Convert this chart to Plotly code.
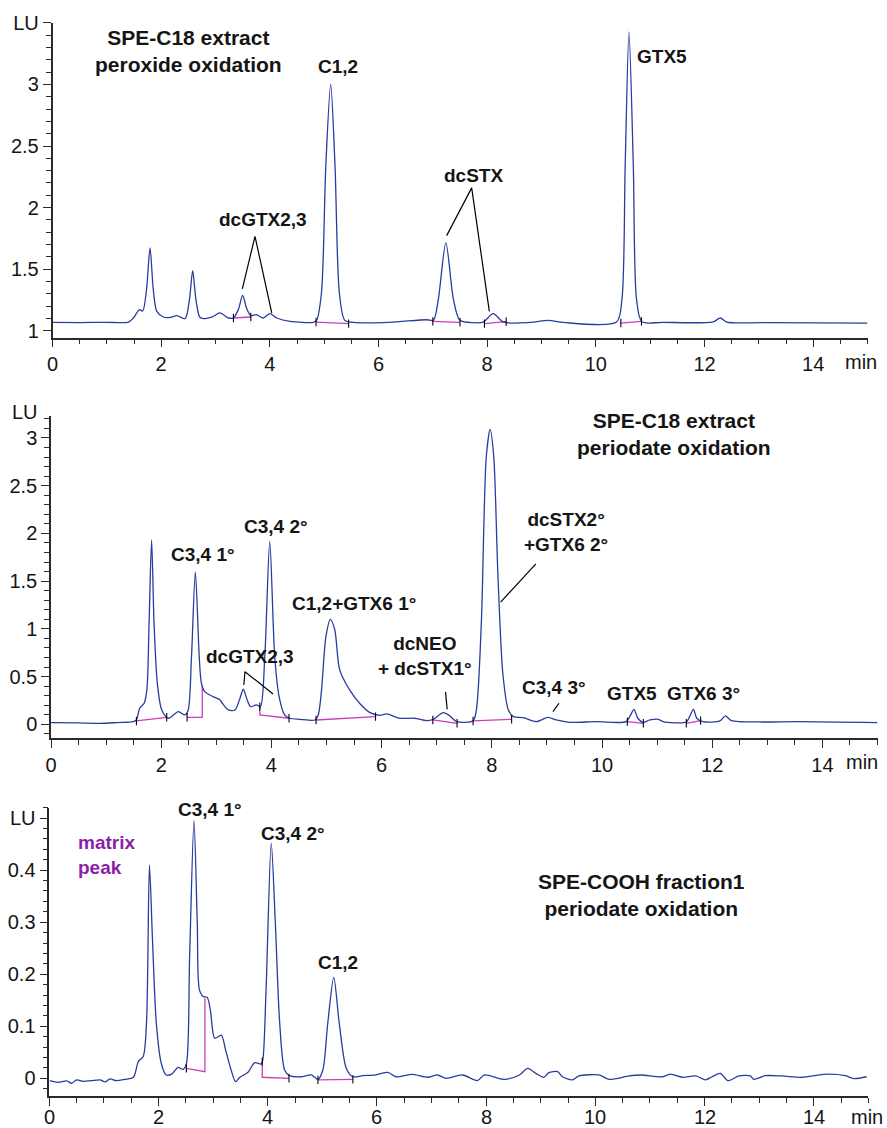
import plotly.graph_objects as go

W, H = 887, 1128

# ---------------- Panel 1: SPE-C18 extract, peroxide oxidation ----------------
t1 = [0.00, 0.50, 1.00, 1.40, 1.49, 1.60, 1.66, 1.73, 1.795, 1.855, 1.92, 2.04, 2.17, 2.29, 2.44,
      2.52, 2.58, 2.64, 2.71, 2.78, 2.95, 3.08, 3.24, 3.33, 3.42, 3.50, 3.57, 3.65, 3.75, 3.88,
      4.00, 4.13, 4.37, 4.80, 4.86, 4.95, 5.03, 5.12, 5.20, 5.28, 5.38, 5.54, 6.20, 6.89, 7.01,
      7.10, 7.24, 7.38, 7.50, 7.75, 7.93, 8.11, 8.30, 8.79, 9.13, 9.40, 10.38, 10.48, 10.54,
      10.61, 10.69, 10.75, 10.85, 11.24, 12.16, 12.29, 12.41, 13.08, 15.00]
lu1 = [1.067, 1.066, 1.068, 1.070, 1.103, 1.171, 1.160, 1.333, 1.672, 1.333, 1.157, 1.111, 1.108, 1.122, 1.098,
       1.252, 1.488, 1.252, 1.111, 1.098, 1.115, 1.144, 1.103, 1.103, 1.171, 1.287, 1.185, 1.122, 1.130, 1.103,
       1.138, 1.103, 1.076, 1.068, 1.084, 1.306, 2.336, 3.000, 2.336, 1.306, 1.084, 1.067, 1.068, 1.089, 1.084,
       1.252, 1.713, 1.252, 1.084, 1.065, 1.070, 1.138, 1.070, 1.067, 1.084, 1.067, 1.070, 1.252, 2.336,
       3.428, 2.336, 1.252, 1.072, 1.068, 1.072, 1.103, 1.070, 1.065, 1.062]
base1_t = [[3.33, 3.65], [4.85, 5.45], [7.00, 7.50], [7.95, 8.35], [10.46, 10.84]]
base1_lu = [[1.103, 1.111], [1.070, 1.057], [1.076, 1.068], [1.057, 1.073], [1.062, 1.076]]
labels1 = ["SPE-C18 extract<br>peroxide oxidation", "C1,2", "dcGTX2,3", "dcSTX", "GTX5"]
labels1_t = [2.50, 5.26, 3.88, 7.745, 11.21]
labels1_lu = [3.276, 3.149, 1.902, 2.263, 3.23]
leaders1_t = [[3.494, 3.727, 4.035], [7.255, 7.715, 8.04]]
leaders1_lu = [[1.339, 1.767, 1.144], [1.772, 2.16, 1.157]]

# ---------------- Panel 2: SPE-C18 extract, periodate oxidation ----------------
t2 = [0.00, 0.50, 0.89, 1.20, 1.49, 1.55, 1.61, 1.69, 1.74, 1.78, 1.826, 1.87, 1.93, 2.01, 2.13,
      2.31, 2.43, 2.49, 2.55, 2.62, 2.69, 2.73, 2.79, 2.94, 3.07, 3.11, 3.22, 3.34, 3.43, 3.49,
      3.55, 3.62, 3.73, 3.80, 3.88, 3.97, 4.06, 4.14, 4.24, 4.33, 4.52, 4.79, 4.85, 4.91, 4.99,
      5.07, 5.15, 5.24, 5.42, 5.60, 5.79, 5.97, 6.09, 6.33, 6.60, 6.81, 6.93, 7.12, 7.24, 7.36,
      7.66, 7.72, 7.81, 7.90, 7.97, 8.035, 8.11, 8.20, 8.30, 8.39, 8.57, 8.81, 9.02, 9.17, 9.41,
      9.90, 10.44, 10.52, 10.58, 10.65, 10.74, 10.87, 11.02, 11.11, 11.53, 11.59, 11.66, 11.72,
      11.83, 12.14, 12.24, 12.35, 12.92, 13.53, 15.00]
lu2 = [0.017, 0.015, 0.010, 0.018, 0.028, 0.045, 0.168, 0.220, 0.360, 1.060, 1.932, 1.060, 0.430, 0.150, 0.063,
       0.133, 0.098, 0.150, 0.710, 1.597, 0.710, 0.430, 0.342, 0.290, 0.255, 0.220, 0.150, 0.150, 0.273, 0.367,
       0.273, 0.185, 0.203, 0.185, 0.710, 1.915, 0.710, 0.290, 0.098, 0.063, 0.052, 0.045, 0.098, 0.360, 0.920,
       1.100, 0.990, 0.570, 0.360, 0.220, 0.122, 0.094, 0.108, 0.063, 0.063, 0.038, 0.050, 0.122, 0.087, 0.028,
       0.038, 0.150, 1.060, 2.805, 3.090, 2.805, 1.580, 0.535, 0.150, 0.080, 0.070, 0.028, 0.073, 0.045, 0.020,
       0.028, 0.028, 0.098, 0.157, 0.063, 0.020, 0.045, 0.052, 0.028, 0.024, 0.080, 0.157, 0.063,
       0.028, 0.035, 0.087, 0.038, 0.024, 0.028, 0.017]
base2_t = [[1.55, 2.10], [2.47, 2.745, 2.745], [3.79, 3.79, 4.32], [4.81, 5.89], [6.93, 7.37],
           [7.66, 8.36], [10.46, 10.75], [11.53, 11.79]]
base2_lu = [[0.035, 0.073], [0.073, 0.073, 0.41], [0.185, 0.098, 0.063], [0.045, 0.080], [0.045, 0.010],
            [0.035, 0.052], [0.028, 0.010], [0.010, 0.038]]
labels2 = ["SPE-C18 extract<br>periodate oxidation", "C3,4 1°", "C3,4 2°", "C1,2+GTX6 1°", "dcGTX2,3",
           "dcNEO<br>+ dcSTX1°", "dcSTX2°<br>+GTX6 2°", "C3,4 3°", "GTX5", "GTX6 3°"]
labels2_t = [11.30, 2.76, 4.09, 5.50, 3.62, 6.78, 9.354, 9.13, 10.545, 11.84]
labels2_lu = [3.04, 1.78, 2.07, 1.27, 0.71, 0.72, 2.016, 0.384, 0.325, 0.318]
leaders2_t = [[3.50, 3.52, 4.03], [7.16, 7.19], [8.80, 8.16], [9.22, 9.11]]
leaders2_lu = [[0.412, 0.551, 0.318], [0.34, 0.157], [1.68, 1.28], [0.22, 0.132]]

# ---------------- Panel 3: SPE-COOH fraction1, periodate oxidation ----------------
t3 = [0.01, 0.16, 0.32, 0.41, 0.50, 0.62, 0.77, 0.93, 1.02, 1.11, 1.23, 1.38, 1.54, 1.63, 1.72,
      1.78, 1.834, 1.89, 1.96, 2.05, 2.14, 2.24, 2.36, 2.45, 2.51, 2.57, 2.65, 2.71, 2.75, 2.82,
      2.89, 2.95, 3.03, 3.15, 3.23, 3.33, 3.41, 3.49, 3.64, 3.76, 3.88, 3.91, 3.97, 4.065, 4.14,
      4.22, 4.31, 4.40, 4.61, 4.80, 4.92, 5.01, 5.10, 5.21, 5.31, 5.44, 5.56, 5.74, 5.98, 6.20,
      6.35, 6.65, 6.93, 7.11, 7.27, 7.57, 7.84, 7.97, 8.33, 8.61, 8.76, 8.91, 9.06, 9.15, 9.31,
      9.40, 9.58, 9.70, 10.07, 10.25, 10.62, 10.83, 11.23, 11.38, 11.59, 11.84, 12.02, 12.14,
      12.29, 12.43, 12.63, 12.84, 12.90, 13.11, 13.42, 13.79, 14.18, 14.58, 14.73, 14.97]
lu3 = [-0.0045, -0.0077, -0.005, -0.0096, -0.003, -0.006, -0.0045, -0.003, -0.007, -0.0013, -0.0045, -0.002,
       0.002, 0.032, 0.042, 0.106, 0.410, 0.266, 0.106, 0.029, 0.0064, 0.008, 0.021, 0.017, 0.0276, 0.234,
       0.495, 0.298, 0.170, 0.157, 0.156, 0.131, 0.077, 0.083, 0.054, 0.016, -0.0064, 0.002, 0.0115, 0.030,
       0.0276, 0.035, 0.170, 0.452, 0.298, 0.106, 0.016, 0.005, 0.003, 0.0064, -0.002, 0.016, 0.106, 0.194,
       0.106, 0.019, 0.003, 0.005, 0.0064, 0.0115, 0.003, 0.0077, 0.002, 0.0064, 0.000, 0.0064, -0.0045,
       0.0064, -0.002, 0.0064, 0.019, 0.0096, 0.002, 0.011, 0.0128, 0.003, -0.003, 0.0045, 0.0064, -0.002,
       0.0045, 0.0064, 0.003, 0.008, 0.002, 0.0045, -0.003, 0.003, 0.0096, -0.0045, 0.0045, 0.0045, -0.002,
       0.005, 0.0045, 0.002, 0.0077, 0.005, -0.0006, 0.003]
base3_t = [[2.51, 2.85, 2.85], [3.90, 3.90, 4.39], [4.92, 5.56]]
base3_lu = [[0.019, 0.0128, 0.154], [0.032, 0.002, 0.000], [-0.003, -0.002]]
labels3 = ["C3,4 1°", "C3,4 2°", "C1,2", "SPE-COOH fraction1<br>periodate oxidation"]
labels3_t = [2.95, 4.47, 5.28, 10.85]
labels3_lu = [0.516, 0.471, 0.222, 0.353]
matrix_label = "matrix<br>peak"
matrix_t, matrix_lu = 0.49, 0.43

x_ticks = [0, 2, 4, 6, 8, 10, 12, 14]

# ---------------- styling ----------------
BLUE = '#2a3c9e'
MAG = '#cc3dbb'
AX = '#2a2a2a'
TXT = '#151515'
FONT = 'Liberation Sans'

fig = go.Figure()


def seg_xy(ts, ys):
    xs, yv = [], []
    for a, b in zip(ts, ys):
        xs += a + [None]
        yv += b + [None]
    return xs, yv


panels = [
    (t1, lu1, base1_t, base1_lu, 'x', 'y'),
    (t2, lu2, base2_t, base2_lu, 'x2', 'y2'),
    (t3, lu3, base3_t, base3_lu, 'x3', 'y3'),
]
for t, lu, bt, bl, xa, ya in panels:
    bx, by = seg_xy(bt, bl)
    fig.add_trace(go.Scatter(x=bx, y=by, mode='lines', line=dict(color=MAG, width=1.3),
                             xaxis=xa, yaxis=ya, showlegend=False, hoverinfo='skip'))
    fig.add_trace(go.Scatter(x=t, y=lu, mode='lines', line=dict(color=BLUE, width=1.3, shape='spline', smoothing=0.8),
                             xaxis=xa, yaxis=ya, showlegend=False))
    # integration markers at the ends of each baseline segment
    mx = [s[0] for s in bt] + [s[-1] for s in bt if s[-1] != s[-2]]
    my = [s[0] for s in bl] + [s[-1] for s, st in zip(bl, bt) if st[-1] != st[-2]]
    fig.add_trace(go.Scatter(x=mx, y=my, mode='markers',
                             marker=dict(symbol='line-ns', size=6, line=dict(color='black', width=1.1)),
                             xaxis=xa, yaxis=ya, showlegend=False, hoverinfo='skip'))

for lt, ll, xa, ya in [(leaders1_t, leaders1_lu, 'x', 'y'), (leaders2_t, leaders2_lu, 'x2', 'y2')]:
    lx, ly = seg_xy(lt, ll)
    fig.add_trace(go.Scatter(x=lx, y=ly, mode='lines', line=dict(color='black', width=1.2),
                             xaxis=xa, yaxis=ya, showlegend=False, hoverinfo='skip'))

ann = []


def add_labels(texts, xs, ys, xa, ya, size=19, color=TXT):
    for s, x, y in zip(texts, xs, ys):
        big = '<br>' in s and ('SPE' in s)
        ann.append(dict(text='<b>' + s.replace('<br>', '</b><br><b>') + '</b>', x=x, y=y, xref=xa, yref=ya,
                        showarrow=False, xanchor='center', yanchor='middle', align='center',
                        font=dict(family=FONT, size=21 if big else size, color=color)))


add_labels(labels1, labels1_t, labels1_lu, 'x', 'y')
add_labels(labels2, labels2_t, labels2_lu, 'x2', 'y2')
add_labels(labels3, labels3_t, labels3_lu, 'x3', 'y3')
ann.append(dict(text='<b>matrix</b><br><b>peak</b>', x=matrix_t, y=matrix_lu, xref='x3', yref='y3',
                showarrow=False, xanchor='left', yanchor='middle', align='left',
                font=dict(family=FONT, size=19, color='#8a1fa6')))

# "min" unit labels and the "LU" unit above panel 2
for xv, py, xa in [(14.88, 362, 'x'), (14.72, 761.7, 'x2'), (14.98, 1116.5, 'x3')]:
    ann.append(dict(text='min', x=xv, y=1 - py / H, xref=xa, yref='paper', showarrow=False,
                    xanchor='center', yanchor='middle', font=dict(family=FONT, size=20, color=TXT)))
ann.append(dict(text='LU', x=39.5 / W, y=1 - 412 / H, xref='paper', yref='paper', showarrow=False,
                xanchor='right', yanchor='middle', font=dict(family=FONT, size=20, color=TXT)))
# bottom-panel time labels (kept inside the page edge)
for v in x_ticks:
    ann.append(dict(text=str(v), x=v, y=1 - 1116.5 / H, xref='x3', yref='paper', showarrow=False,
                    xanchor='center', yanchor='middle', font=dict(family=FONT, size=20, color=TXT)))


def xaxis(px0, px1, anchor, labels=True):
    return dict(domain=[px0 / W, px1 / W], range=[0, 15], anchor=anchor, showline=True, linecolor=AX,
                linewidth=1.5, ticks='outside', ticklen=8, tickwidth=1.3, tickcolor=AX,
                tickmode='array', tickvals=x_ticks, ticktext=[str(v) for v in x_ticks],
                showticklabels=labels,
                minor=dict(tickmode='linear', tick0=0, dtick=0.5, ticklen=5, tickwidth=1.3, tickcolor=AX,
                           ticks='outside', showgrid=False),
                showgrid=False, zeroline=False, automargin=False,
                tickfont=dict(family=FONT, size=20, color=TXT))


def yaxis(py_top, py_bot, rng, dtick, mdtick, anchor, alias=None):
    d = dict(domain=[1 - py_bot / H, 1 - py_top / H], range=rng, anchor=anchor, showline=True, linecolor=AX,
             linewidth=1.5, ticks='outside', ticklen=8, tickwidth=1.3, tickcolor=AX,
             tickmode='linear', tick0=0, dtick=dtick,
             minor=dict(tickmode='linear', tick0=0, dtick=mdtick, ticklen=5, tickwidth=1.3, tickcolor=AX,
                        ticks='outside', showgrid=False),
             showgrid=False, zeroline=False, automargin=False,
             tickfont=dict(family=FONT, size=20, color=TXT))
    if alias:
        d['labelalias'] = alias
    return d


fig.update_layout(
    width=W, height=H, margin=dict(l=0, r=0, t=0, b=0, autoexpand=False),
    paper_bgcolor='white', plot_bgcolor='white', showlegend=False,
    xaxis=xaxis(52.5, 867.5, 'y'),
    yaxis=yaxis(22.7, 337.7, [0.943, 3.502], 0.5, 0.1, 'x', {'3.5': 'LU'}),
    xaxis2=xaxis(51, 877.5, 'y2'),
    yaxis2=yaxis(416, 738.3, [-0.147, 3.23], 0.5, 0.1, 'x2'),
    xaxis3=xaxis(49.3, 868.3, 'y3', labels=False),
    yaxis3=yaxis(807.7, 1096, [-0.034, 0.52], 0.1, 0.02, 'x3', {'0.5': 'LU'}),
    annotations=ann,
)

fig.write_html("out.html", config={'displayModeBar': False},
               post_script="document.body.style.margin='0px';document.body.style.overflow='hidden';")
